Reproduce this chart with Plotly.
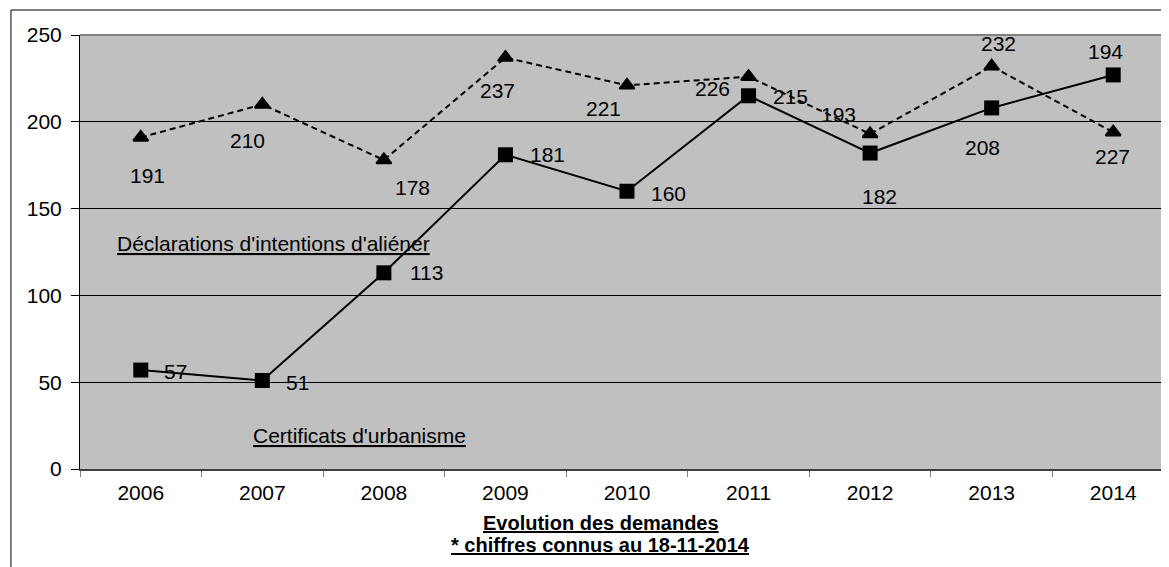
import plotly.graph_objects as go

# données
annees = ["2006", "2007", "2008", "2009", "2010", "2011", "2012", "2013", "2014"]
declarations = [191, 210, 178, 237, 221, 226, 193, 232, 194]
certificats = [57, 51, 113, 181, 160, 215, 182, 208, 227]

# décalage des étiquettes (pixels) pour reproduire la mise en page d'origine
decl_dx = [7, -15, 29, -8, -23, -36, -32, 7, -8]
decl_dy = [-38, -36, -28, -33, -23, -12, 19, 23, 81]
cert_dx = [35, 35, 43, 42, 42, 42, 9, -9, -1]
cert_dy = [-1, -2, 0, 0, -2, -1, -43, -40, -82]

FONT = "Arial, Liberation Sans, sans-serif"
FS = 21

fig = go.Figure()
fig.add_trace(
    go.Scatter(
        x=annees,
        y=declarations,
        mode="lines+markers",
        line=dict(color="black", width=2, dash="6px,4px"),
        marker=dict(symbol="triangle-up", size=13, color="black",
                    line=dict(color="black", width=2)),
        showlegend=False,
    )
)
fig.add_trace(
    go.Scatter(
        x=annees,
        y=certificats,
        mode="lines+markers",
        line=dict(color="black", width=2),
        marker=dict(symbol="square", size=15, color="black"),
        showlegend=False,
    )
)

for serie, dxs, dys in [(declarations, decl_dx, decl_dy), (certificats, cert_dx, cert_dy)]:
    for i, v in enumerate(serie):
        fig.add_annotation(
            x=i, y=v, text=str(v), showarrow=False,
            xshift=dxs[i], yshift=dys[i],
            font=dict(family=FONT, size=FS, color="black"),
        )

# étiquettes des séries
fig.add_annotation(
    x=0.032, y=0.52, xref="paper", yref="paper", xanchor="left", yanchor="middle",
    text="<u>Déclarations d'intentions d'aliéner</u>", showarrow=False,
    font=dict(family=FONT, size=FS, color="black"),
)
fig.add_annotation(
    x=0.157, y=0.078, xref="paper", yref="paper", xanchor="left", yanchor="middle",
    text="<u>Certificats d'urbanisme</u>", showarrow=False,
    font=dict(family=FONT, size=FS, color="black"),
)
# titre en bas (deux lignes serrées)
for txt, ypos in [("Evolution des demandes", -0.124), ("* chiffres connus au 18-11-2014", -0.176)]:
    fig.add_annotation(
        x=0.478, y=ypos, xref="paper", yref="paper", xanchor="center", yanchor="middle",
        text=f"<b><u>{txt}</u></b>", showarrow=False,
        font=dict(family=FONT, size=20, color="black"),
    )

# cadre extérieur et bord supérieur
fig.add_shape(type="rect", xref="paper", yref="paper", x0=-0.0634, y0=1.0576, x1=1.1, y1=-0.6,
              line=dict(color="black", width=1), layer="below")
fig.add_shape(type="line", xref="paper", yref="paper", x0=0, x1=1, y0=1, y1=1,
              line=dict(color="#808080", width=2))

fig.update_xaxes(
    type="category",
    range=[-0.5, 8.459],
    showline=True, linecolor="#404040", linewidth=2,
    ticks="outside", tickson="boundaries", ticklen=6, tickcolor="#808080",
    ticklabelstandoff=4,
    showgrid=False,
    tickfont=dict(family=FONT, size=FS, color="black"),
)
fig.update_yaxes(
    range=[0, 250],
    tickvals=[0, 50, 100, 150, 200, 250],
    showline=True, linecolor="black", linewidth=1,
    ticks="outside", ticklen=8, tickcolor="black",
    ticklabelstandoff=5,
    showgrid=True, gridcolor="black", gridwidth=1,
    zeroline=False,
    tickfont=dict(family=FONT, size=FS, color="black"),
)
# la page ajoute une marge de 8 px : la figure est réduite d'autant
fig.update_layout(
    width=1161, height=559,
    margin=dict(l=72, r=0, t=27, b=98),
    plot_bgcolor="#c0c0c0",
    paper_bgcolor="white",
)
fig.write_html("out.html")
